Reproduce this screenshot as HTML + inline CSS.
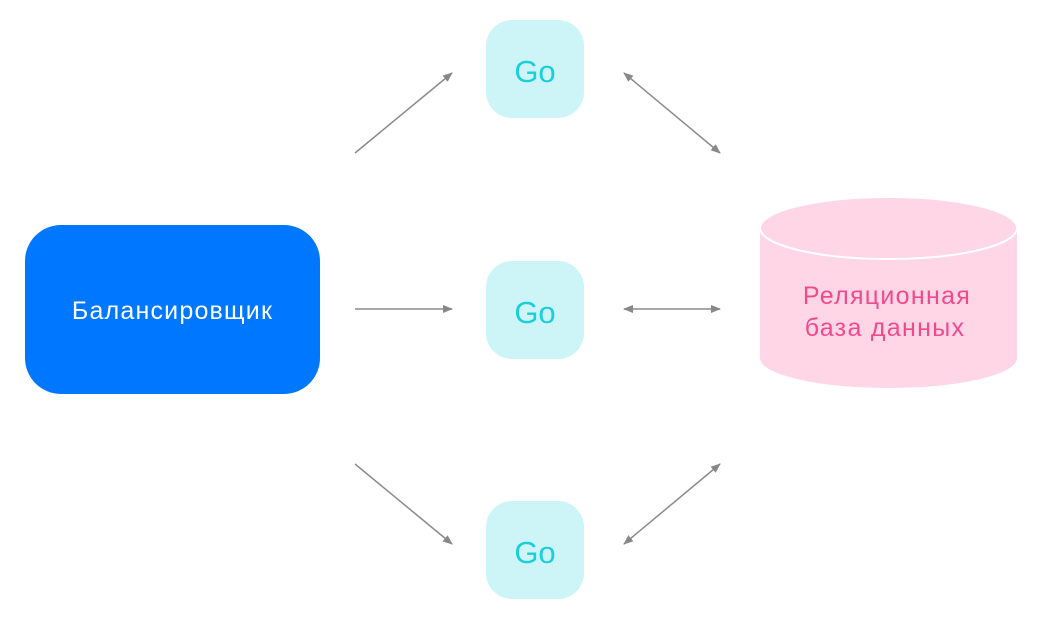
<!DOCTYPE html>
<html><head><meta charset="utf-8"><style>
html,body{margin:0;padding:0;background:#fff;}
body{width:1043px;height:620px;overflow:hidden;position:relative;font-family:"Liberation Sans","DejaVu Sans",sans-serif;}
.go{position:absolute;left:486px;width:98px;height:98px;border-radius:26px;background:#cdf5f8;color:#1bcedb;font-size:31px;display:flex;align-items:center;justify-content:center;padding-top:6px;box-sizing:border-box;}
</style></head><body>
<div style="position:absolute;left:25px;top:225px;width:295px;height:169px;border-radius:36px;background:#0077ff;color:#fff;font-size:25px;letter-spacing:1.2px;display:flex;align-items:center;justify-content:center;padding-top:4px;box-sizing:border-box;">Балансировщик</div>
<div class="go" style="top:20px">Go</div>
<div class="go" style="top:261px">Go</div>
<div class="go" style="top:501px">Go</div>
<svg width="1043" height="620" style="position:absolute;left:0;top:0">
<defs><marker id="a" markerWidth="10" markerHeight="8" refX="9" refY="4" orient="auto-start-reverse" markerUnits="userSpaceOnUse"><path d="M0,0 L10,4 L0,8 Z" fill="#888"/></marker></defs>
<g stroke="#8a8a8a" stroke-width="1.5" fill="none">
<line x1="355" y1="153" x2="452" y2="73" marker-end="url(#a)"/>
<line x1="355" y1="309" x2="452" y2="309" marker-end="url(#a)"/>
<line x1="355" y1="464" x2="452" y2="544" marker-end="url(#a)"/>
<line x1="624" y1="73" x2="720" y2="153" marker-start="url(#a)" marker-end="url(#a)"/>
<line x1="624" y1="309" x2="720" y2="309" marker-start="url(#a)" marker-end="url(#a)"/>
<line x1="624" y1="544" x2="720" y2="464" marker-start="url(#a)" marker-end="url(#a)"/>
</g>
<path d="M760,228 L760,358 A128.5,30 0 0 0 1017,358 L1017,228 Z" fill="#ffd6e6"/>
<ellipse cx="888.5" cy="228" rx="128.5" ry="31" fill="#ffd6e6" stroke="#fff" stroke-width="2"/>
<text x="887" y="304" text-anchor="middle" font-size="25" letter-spacing="1.3" fill="#f04a8c" font-family="Liberation Sans, DejaVu Sans, sans-serif">Реляционная</text>
<text x="885" y="336" text-anchor="middle" font-size="25" letter-spacing="1.3" fill="#f04a8c" font-family="Liberation Sans, DejaVu Sans, sans-serif">база данных</text>
</svg>
</body></html>
